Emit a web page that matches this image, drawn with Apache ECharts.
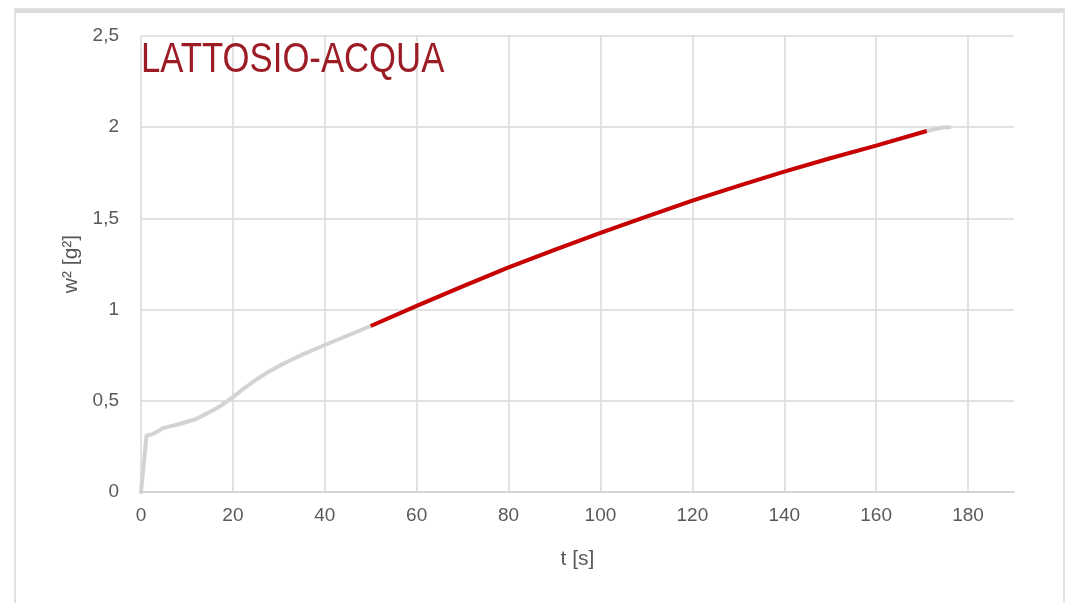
<!DOCTYPE html>
<html>
<head>
<meta charset="utf-8">
<script src="https://cdn.jsdelivr.net/npm/echarts@6/dist/echarts.min.js"></script>
<style>html,body{margin:0;padding:0;background:#fff}#c{width:1069px;height:603px}</style>
</head>
<body>
<div id="c"></div>
<script>
// Full measured curve (grey)
const grayT = [0, 0.4, 1.2, 2.3, 3.5, 4.8, 6.3, 8, 10, 12, 13.5, 15.5, 17.2, 20, 22.5, 25, 27.5, 30, 32.5, 35, 40, 45, 50, 60, 70, 80, 90, 100, 110, 120, 130, 140, 150, 160, 171, 173, 174.5, 176];
const grayW = [0, 0, 0.31, 0.315, 0.33, 0.35, 0.36, 0.37, 0.385, 0.40, 0.42, 0.445, 0.47, 0.52, 0.57, 0.615, 0.655, 0.69, 0.722, 0.752, 0.806, 0.858, 0.91, 1.02, 1.127, 1.232, 1.328, 1.42, 1.51, 1.597, 1.678, 1.756, 1.83, 1.899, 1.979, 1.99, 1.998, 2.0];
// Fitted section (red)
const redT = [50, 60, 70, 80, 90, 100, 110, 120, 130, 140, 150, 160, 171];
const redW = [0.91, 1.02, 1.127, 1.232, 1.328, 1.42, 1.51, 1.597, 1.678, 1.756, 1.83, 1.899, 1.979];
const xTicks = {min: 0, max: 190, step: 20};
const yTicks = {min: 0, max: 2.5, step: 0.5};
const titleText = 'LATTOSIO-ACQUA';
const xName = 't [s]';
const yName = 'w² [g²]';

const zip = (a, b) => a.map((v, i) => [v, b[i]]);
const chart = echarts.init(document.getElementById('c'));
const labelFont = 'Liberation Sans, Arial, sans-serif';
chart.setOption({
  animation: false,
  backgroundColor: '#fff',
  graphic: [
    {type: 'rect', shape: {x: 15, y: 9, width: 1049, height: 640}, style: {fill: 'none', stroke: '#d9d9d9', lineWidth: 1.5}, silent: true},
    {type: 'line', shape: {x1: 15, y1: 11, x2: 1064, y2: 11}, style: {stroke: '#dcdcdc', lineWidth: 4}, silent: true},
    {type: 'text', x: 141, y: 39, scaleX: 0.826, z: 100, silent: true,
      style: {text: titleText, x: 0, y: 0, verticalAlign: 'top', fill: '#9c1c26',
        font: 'normal 42px "Liberation Sans", Arial, sans-serif'}}
  ],
  grid: {left: 141, right: 55, top: 36, bottom: 111, containLabel: false},
  xAxis: {
    type: 'value', min: xTicks.min, max: xTicks.max, interval: xTicks.step,
    name: xName, nameLocation: 'middle', nameGap: 57,
    nameTextStyle: {fontFamily: labelFont, fontSize: 21, color: '#595959'},
    axisLine: {show: true, lineStyle: {color: '#d0d0d0', width: 1.5}},
    axisTick: {show: false},
    axisLabel: {fontFamily: labelFont, fontSize: 19, color: '#595959', margin: 14, showMaxLabel: false,
      formatter: v => v >= xTicks.max ? '' : String(v)},
    splitLine: {show: true, showMaxLine: false, lineStyle: {color: '#d9d9d9', width: 1.5}}
  },
  yAxis: {
    type: 'value', min: yTicks.min, max: yTicks.max, interval: yTicks.step,
    name: yName, nameLocation: 'middle', nameGap: 40,
    nameTextStyle: {fontFamily: labelFont, fontSize: 21, color: '#595959'},
    axisLine: {show: false},
    axisTick: {show: false},
    axisLabel: {fontFamily: labelFont, fontSize: 19, color: '#595959', margin: 22,
      formatter: v => String(v).replace('.', ',')},
    splitLine: {show: true, lineStyle: {color: '#d9d9d9', width: 1.5}}
  },
  series: [
    {type: 'line', data: zip(grayT, grayW), showSymbol: false, smooth: false, lineStyle: {color: '#d3d3d3', width: 4, join: 'round', cap: 'round'}, z: 2},
    {type: 'line', data: zip(redT, redW), showSymbol: false, smooth: false, lineStyle: {color: '#c80000', width: 4, join: 'round'}, z: 3}
  ]
});
</script>
</body>
</html>
